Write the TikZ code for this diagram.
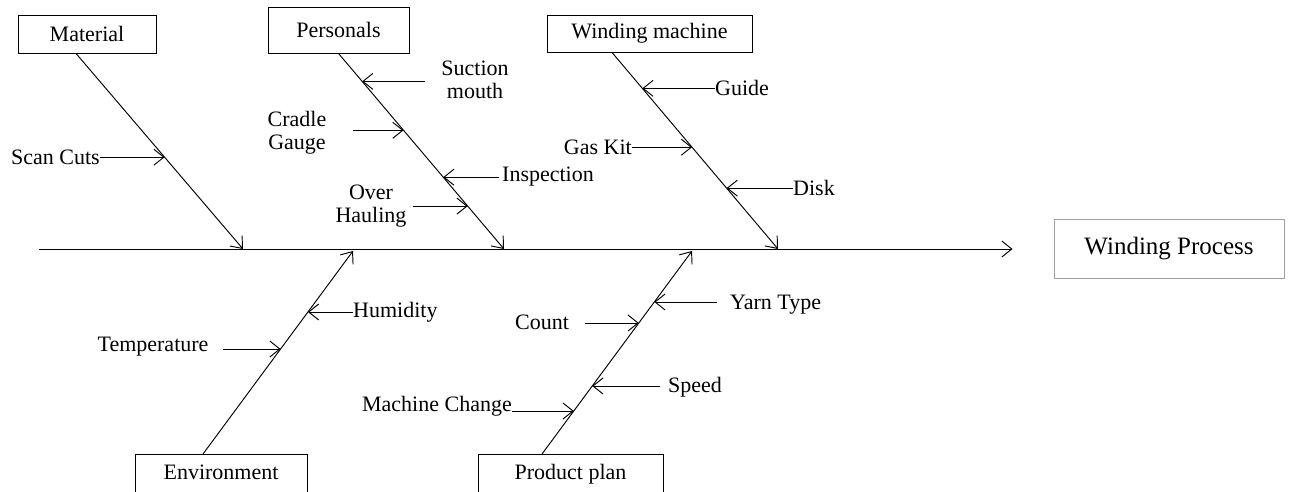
\documentclass[tikz,border=0pt]{standalone}
\usepackage{fontspec}
\newfontfamily\tnr{Liberation Serif}
\usetikzlibrary{arrows.meta,calc}
\begin{document}
\begin{tikzpicture}[x=1pt,y=-1pt,
  lbl/.style={font=\tnr\fontsize{22}{23}\selectfont, inner sep=0pt, align=center},
  cbox/.style={draw, line width=0.9pt, font=\tnr\fontsize{22}{23}\selectfont, inner sep=0pt},
  arr/.style={line width=0.95pt, -{Straight Barb[length=10pt,width=16pt]}}]
\useasboundingbox (0,0) rectangle (1290,492);

% cause boxes
\node[cbox, minimum width=138pt, minimum height=38pt] (mat) at (87,34) {Material};
\node[cbox, minimum width=141pt, minimum height=46pt] (per) at (338.5,30) {Personals};
\node[cbox, minimum width=205pt, minimum height=37pt] (wm) at (649.5,33.5) {Winding machine};
\node[cbox, minimum width=172pt, anchor=north, text height=25pt, text depth=22pt] (env) at (221,454) {Environment};
\node[cbox, minimum width=185pt, anchor=north, text height=25pt, text depth=22pt] (pp) at (570.5,454) {Product plan};
\node[draw=gray!75, line width=0.9pt, minimum width=230pt, minimum height=59pt, inner sep=0pt,
      font=\tnr\fontsize{25}{28}\selectfont] (wp) at (1169,248.5) {Winding Process};

% spine
\coordinate (sL) at (39,249);
\draw[arr] (sL) -- ([xshift=-41pt]wp.west |- sL);

% bones
\coordinate (mA) at ([xshift=-11pt]mat.south);
\coordinate (mB) at (243,249);
\coordinate (pA) at (per.south);
\coordinate (pB) at (504,249);
\coordinate (wA) at ([xshift=-37.5pt]wm.south);
\coordinate (wB) at (778,249);
\coordinate (eA) at ([xshift=-18pt]env.north);
\coordinate (eB) at (353,251);
\coordinate (qA) at ([xshift=-28.5pt]pp.north);
\coordinate (qB) at (692,251);
\draw[arr] (mA) -- (mB);
\draw[arr] (pA) -- (pB);
\draw[arr] (wA) -- (wB);
\draw[arr] (eA) -- (eB);
\draw[arr] (qA) -- (qB);

% tips on bones
\coordinate (tScan) at ($(mA)!0.5306!(mB)$);
\coordinate (tSuc) at ($(pA)!0.1429!(pB)$);
\coordinate (tCra) at ($(pA)!0.3929!(pB)$);
\coordinate (tIns) at ($(pA)!0.6327!(pB)$);
\coordinate (tOve) at ($(pA)!0.7806!(pB)$);
\coordinate (tGui) at ($(wA)!0.1827!(wB)$);
\coordinate (tGas) at ($(wA)!0.4822!(wB)$);
\coordinate (tDis) at ($(wA)!0.6904!(wB)$);
\coordinate (tHum) at ($(eA)!0.6995!(eB)$);
\coordinate (tTem) at ($(eA)!0.5172!(eB)$);
\coordinate (tYar) at ($(qA)!0.7488!(qB)$);
\coordinate (tCou) at ($(qA)!0.6453!(qB)$);
\coordinate (tSpe) at ($(qA)!0.335!(qB)$);
\coordinate (tMac) at ($(qA)!0.2118!(qB)$);

% labels
\node[lbl, anchor=east] (scan) at (100,157) {Scan Cuts};
\node[lbl] (suc) at (475,80) {Suction\\mouth};
\node[lbl] (cra) at (297,133) {Cradle\\Gauge};
\node[lbl, anchor=west] (ins) at (502,177) {Inspection};
\node[lbl] (ove) at (371,206) {Over\\Hauling};
\node[lbl, anchor=west] (gui) at (715,88) {Guide};
\node[lbl, anchor=east] (gas) at (632,147) {Gas Kit};
\node[lbl, anchor=west] (dis) at (793,188) {Disk};
\node[lbl, anchor=west] (hum) at (353,312) {Humidity};
\node[lbl] (tem) at (153,347) {Temperature};
\node[lbl, anchor=west] (yar) at (730,305) {Yarn Type};
\node[lbl] (cou) at (542,322) {Count};
\node[lbl, anchor=west] (spe) at (668,387) {Speed};
\node[lbl, anchor=east] (mac) at (512,406) {Machine Change};

% sub-cause arrows
\draw[arr] (scan.east |- tScan) -- (tScan);
\draw[arr] ($(suc.west |- tSuc)+(-16,0)$) -- (tSuc);
\draw[arr] ($(cra.east |- tCra)+(26,0)$) -- (tCra);
\draw[arr] ($(ins.west |- tIns)+(-3,0)$) -- (tIns);
\draw[arr] ($(ove.east |- tOve)+(6,0)$) -- (tOve);
\draw[arr] (gui.west |- tGui) -- (tGui);
\draw[arr] (gas.east |- tGas) -- (tGas);
\draw[arr] (dis.west |- tDis) -- (tDis);
\draw[arr] (hum.west |- tHum) -- (tHum);
\draw[arr] ($(tem.east |- tTem)+(14,0)$) -- (tTem);
\draw[arr] ($(yar.west |- tYar)+(-13,0)$) -- (tYar);
\draw[arr] ($(cou.east |- tCou)+(16,0)$) -- (tCou);
\draw[arr] ($(spe.west |- tSpe)+(-8,0)$) -- (tSpe);
\draw[arr] (mac.east |- tMac) -- (tMac);
\end{tikzpicture}
\end{document}
